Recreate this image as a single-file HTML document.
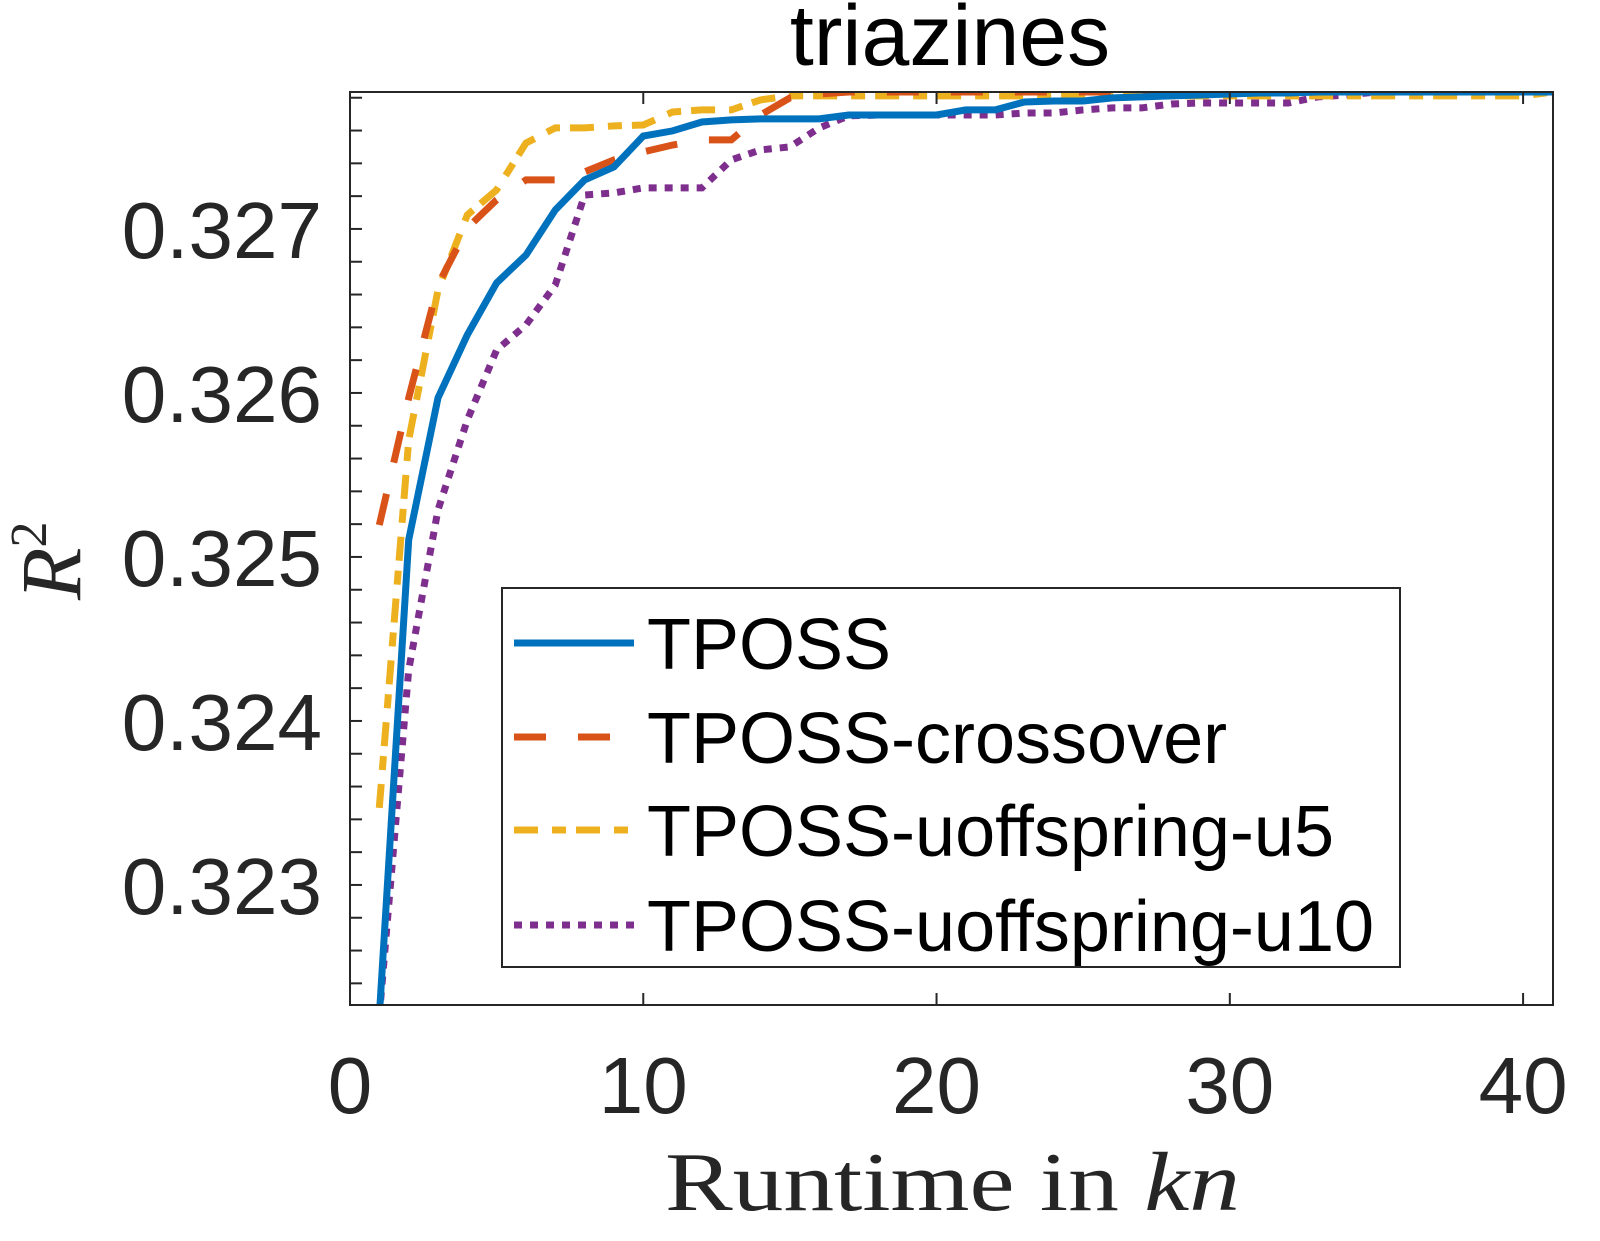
<!DOCTYPE html>
<html><head><meta charset="utf-8"><style>
html,body{margin:0;padding:0;background:#fff;}
svg{display:block;}
</style></head><body>
<svg id="chart" width="1600" height="1241" viewBox="0 0 1600 1241" xmlns="http://www.w3.org/2000/svg">
<defs><clipPath id="clip"><rect x="350" y="92" width="1203" height="913"/></clipPath></defs>
<rect x="0" y="0" width="1600" height="1241" fill="#fff"/>
<g id="series" clip-path="url(#clip)"></g>
<g id="axes"></g>
<text x="950" y="65" font-family="Liberation Sans, sans-serif" font-size="86" text-anchor="middle" fill="#000">triazines</text>
<text x="665" y="1210" font-family="Liberation Serif, serif" font-size="84" textLength="575" lengthAdjust="spacingAndGlyphs" fill="#262626">Runtime in <tspan font-style="italic">kn</tspan></text>
<text transform="translate(80,600) rotate(-90)" font-family="Liberation Serif, serif" font-size="86" font-style="italic" fill="#262626">R<tspan font-style="normal" font-size="52" dy="-34">2</tspan></text>
<g id="legend"></g>
</svg>
<script>
const xs = [1,2,3,4,5,6,7,8,9,10,11,12,13,14,15,16,17,18,19,20,21,22,23,24,25,26,27,28,29,30,31,32,33,34,35,36,37,38,39,40,41];
const tposs = [0.3222,0.325104,0.32597,0.326354,0.326671,0.326841,0.327116,0.327299,0.327378,0.327567,0.327598,0.327652,0.327665,0.327671,0.327671,0.327671,0.327695,0.327695,0.327695,0.327695,0.327726,0.327726,0.327774,0.327780,0.327780,0.327799,0.327805,0.327811,0.327817,0.327823,0.327829,0.327829,0.327835,0.327835,0.327835,0.327835,0.327835,0.327835,0.327835,0.327835,0.327835];
const crossover = [0.325195,0.32597,0.326659,0.327006,0.327177,0.327299,0.327299,0.327348,0.327421,0.32747,0.327512,0.327543,0.327543,0.327695,0.327799,0.327823,0.327835,0.327835,0.327835,0.327835,0.327835,0.327835,0.327835,0.327835,0.327835,0.327835,0.327835,0.327835,0.327835,0.327835,0.327835,0.327835,0.327835,0.327835,0.327835,0.327835,0.327835,0.327835,0.327835,0.327835,0.327835];
const u5 = [0.32347,0.325713,0.326628,0.327085,0.327238,0.327524,0.327616,0.327616,0.327628,0.327634,0.327713,0.327726,0.327726,0.327787,0.327811,0.327811,0.327811,0.327811,0.327811,0.327811,0.327811,0.327811,0.327811,0.327811,0.327811,0.327811,0.327811,0.327811,0.327811,0.327811,0.327811,0.327811,0.327811,0.327811,0.327811,0.327811,0.327811,0.327811,0.327811,0.327811,0.327835];
const u10 = [0.3222,0.324311,0.325287,0.325835,0.326262,0.326415,0.326659,0.327207,0.32722,0.32725,0.32725,0.32725,0.327421,0.327482,0.3275,0.327616,0.327689,0.327695,0.327695,0.327695,0.327695,0.327695,0.327707,0.327707,0.327726,0.327738,0.327738,0.327762,0.327768,0.327768,0.327768,0.327768,0.327805,0.327817,0.327835,0.327835,0.327835,0.327835,0.327835,0.327835,0.327835];
const seriesNames = ["TPOSS","TPOSS-crossover","TPOSS-uoffspring-u5","TPOSS-uoffspring-u10"];
const xTicks = [0,10,20,30,40];
const yTicks = [0.323,0.324,0.325,0.326,0.327];
const yTickLabels = ["0.323","0.324","0.325","0.326","0.327"];

const L=350,R=1553,T=92,B=1005;
const xMin=0,xMax=41.02,yMin=0.322268,yMax=0.327835;
const sx=v=>L+(v-xMin)/(xMax-xMin)*(R-L);
const sy=v=>B-(v-yMin)/(yMax-yMin)*(B-T);
const NS="http://www.w3.org/2000/svg";
function mk(tag,attrs,parent){const e=document.createElementNS(NS,tag);for(const k in attrs)e.setAttribute(k,attrs[k]);parent.appendChild(e);return e;}

const styles=[
 {c:"#0072BD",d:"",key:"tposs"},
 {c:"#D95319",d:"32 32",key:"crossover"},
 {c:"#EDB120",d:"24 14 14 10",key:"u5"},
 {c:"#7E2F8E",d:"8 8",key:"u10"}
];
const data=[tposs,crossover,u5,u10];
const sg=document.getElementById('series');
for(let s=3;s>=0;s--){
  const pts=xs.map((x,i)=>sx(x).toFixed(1)+","+sy(data[s][i]).toFixed(1)).join(" ");
  const p=mk('polyline',{points:pts,fill:"none",stroke:styles[s].c,"stroke-width":7,"stroke-dasharray":styles[s].d,"stroke-linejoin":"miter"},sg);
  
  
}

const ag=document.getElementById('axes');
const box=mk('rect',{x:L,y:T,width:R-L,height:B-T,fill:"none",stroke:"#262626","stroke-width":2},ag);


xTicks.forEach(t=>{
  const x=sx(t);
  mk('line',{x1:x,y1:B,x2:x,y2:B-12,stroke:"#262626","stroke-width":2},ag);
  mk('line',{x1:x,y1:T,x2:x,y2:T+12,stroke:"#262626","stroke-width":2},ag);
  const tx=mk('text',{x:x,y:1113,"font-family":"Liberation Sans, sans-serif","font-size":80,"text-anchor":"middle",fill:"#262626"},ag);
  tx.textContent=String(t);
  
  
});
for(let k=0;;k++){
  const v=0.3224+k*0.0002; if(v>yMax) break;
  const y=sy(v);
  mk('line',{x1:L,y1:y,x2:L+12,y2:y,stroke:"#262626","stroke-width":2},ag);
}
yTicks.forEach((t,i)=>{
  const tx=mk('text',{x:322,y:sy(t)+29,"font-family":"Liberation Sans, sans-serif","font-size":80,"text-anchor":"end",fill:"#262626"},ag);
  tx.textContent=yTickLabels[i];
  
  
});

const lg=document.getElementById('legend');
const lb=mk('rect',{x:502,y:588,width:898,height:379,fill:"#fff",stroke:"#262626","stroke-width":2},lg);


const ly=[643,737,830,925];
seriesNames.forEach((n,i)=>{
  const ln=mk('line',{x1:514,y1:ly[i],x2:634,y2:ly[i],stroke:styles[i].c,"stroke-width":7,"stroke-dasharray":styles[i].d},lg);
  
  
  const tx=mk('text',{x:647,y:ly[i]+26,"font-family":"Liberation Sans, sans-serif","font-size":72,fill:"#000"},lg);
  tx.textContent=n;
  
  
});
</script>
</body></html>
